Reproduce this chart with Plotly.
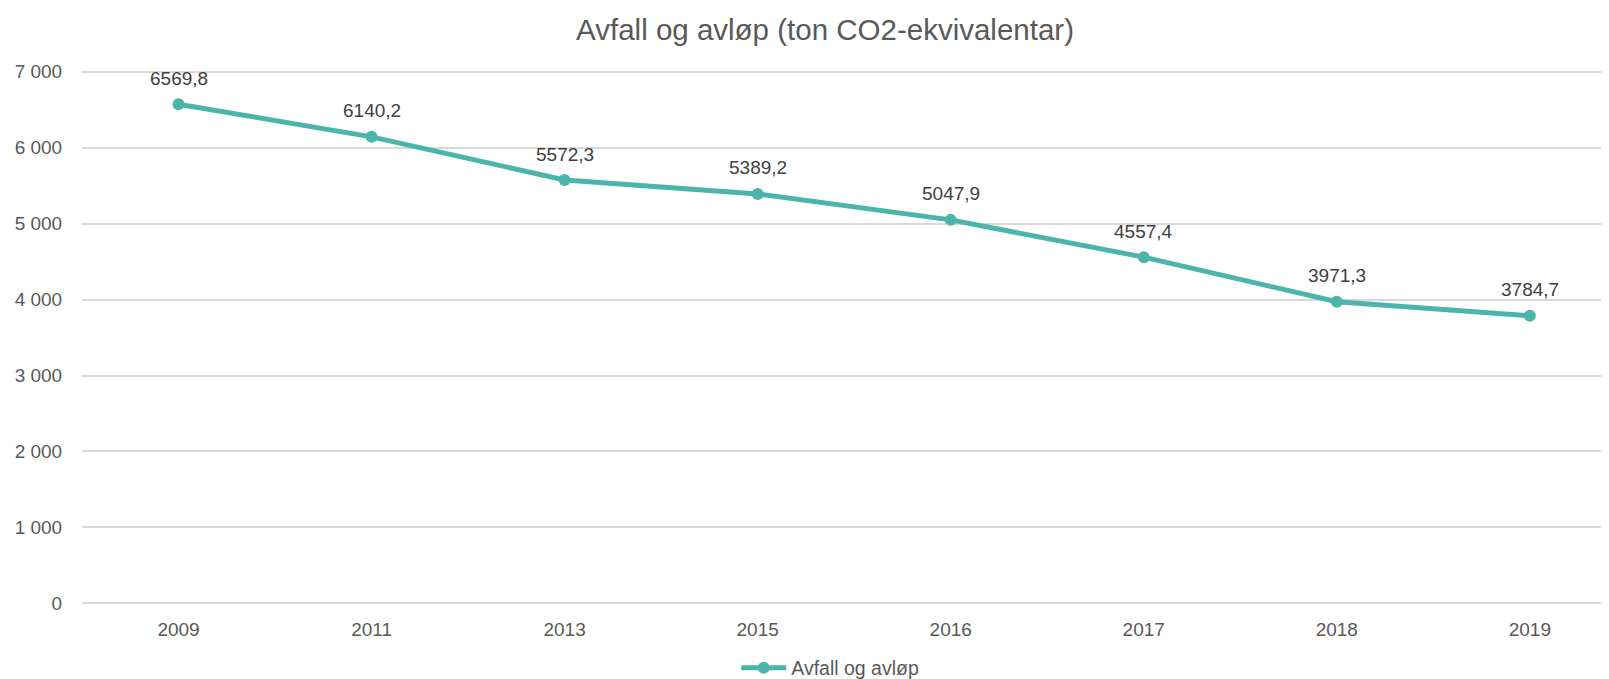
import plotly.graph_objects as go

years = ["2009", "2011", "2013", "2015", "2016", "2017", "2018", "2019"]
values = [6569.8, 6140.2, 5572.3, 5389.2, 5047.9, 4557.4, 3971.3, 3784.7]
series_name = "Avfall og avløp"
title = "Avfall og avløp (ton CO2-ekvivalentar)"
y_ticks = [0, 1000, 2000, 3000, 4000, 5000, 6000, 7000]

FONT = "Liberation Sans, Arial, sans-serif"
COLOR = "#4BB5AC"

fig = go.Figure()
fig.add_trace(go.Scatter(
    x=years, y=values, mode="lines+markers", name=series_name,
    line=dict(color=COLOR, width=5),
    marker=dict(color=COLOR, size=12),
))
for i, v in enumerate(values):
    fig.add_annotation(x=i, y=v, xref="x", yref="y",
                       text=f"{v:.1f}".replace(".", ","),
                       showarrow=False, yshift=26,
                       font=dict(family=FONT, size=19, color="#404040"))

fig.update_layout(
    width=1601, height=671,
    margin=dict(l=74, r=0, t=62, b=74, autoexpand=False),
    paper_bgcolor="white", plot_bgcolor="white",
    separators=", ",
    font=dict(family=FONT, size=19, color="#595959"),
    title=dict(text=title, x=0.4866, xanchor="center", xref="paper",
               y=0.967, yanchor="middle",
               font=dict(family=FONT, size=29.5, color="#595959")),
    showlegend=True,
    legend=dict(orientation="h", x=0.49, xanchor="center",
                yref="container", y=0.0164, yanchor="middle",
                bgcolor="rgba(0,0,0,0)", itemwidth=45,
                font=dict(family=FONT, size=19.5, color="#595959")),
    xaxis=dict(type="category", range=[-0.5, 7.41], showgrid=False, zeroline=False,
               showline=False, ticks="outside", ticklen=7, tickcolor="rgba(0,0,0,0)",
               tickfont=dict(family=FONT, size=19, color="#595959")),
    yaxis=dict(range=[-20, 7020], tickvals=y_ticks, tickformat=",.0f",
               showgrid=True, gridcolor="#D9D9D9", gridwidth=1.5, zeroline=False,
               showline=False, ticks="outside", ticklen=15, tickcolor="rgba(0,0,0,0)",
               tickfont=dict(family=FONT, size=19, color="#595959")),
)
fig.write_html("out.html")
